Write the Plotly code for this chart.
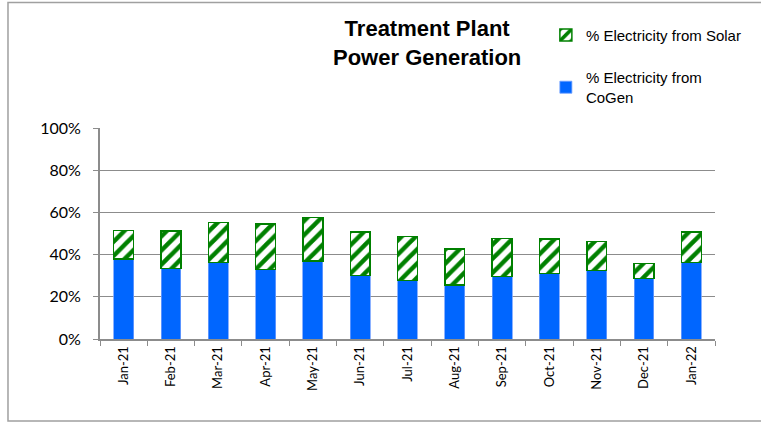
import plotly.graph_objects as go

months = ["Jan-21", "Feb-21", "Mar-21", "Apr-21", "May-21", "Jun-21", "Jul-21",
          "Aug-21", "Sep-21", "Oct-21", "Nov-21", "Dec-21", "Jan-22"]
cogen = [0.379, 0.335, 0.363, 0.330, 0.370, 0.300, 0.278, 0.256, 0.297, 0.311, 0.325, 0.286, 0.362]
solar = [0.136, 0.177, 0.190, 0.215, 0.206, 0.207, 0.207, 0.171, 0.180, 0.164, 0.138, 0.072, 0.145]
y_ticks = [0, 0.2, 0.4, 0.6, 0.8, 1.0]
y_tick_labels = ["0%", "20%", "40%", "60%", "80%", "100%"]

GREEN = "#008000"
BLUE = "#0066FF"
GRID = "#8C8C8C"

fig = go.Figure()
fig.add_trace(go.Bar(
    x=months, y=cogen, name="% Electricity from<br>CoGen", legendgroup="c", legendrank=2,
    marker=dict(color=BLUE, line=dict(color="#6F9FFF", width=0.8)),
    width=0.42,
))
fig.add_trace(go.Bar(
    x=months, y=solar, name="% Electricity from Solar", legendgroup="s", legendrank=1,
    marker=dict(color="white", line=dict(color=GREEN, width=1.5),
                pattern=dict(shape="/", fgcolor=GREEN, bgcolor="white", fgopacity=1,
                             size=10, solidity=0.45)),
    width=0.42,
))

fig.update_layout(
    width=761, height=423,
    barmode="stack",
    plot_bgcolor="white", paper_bgcolor="white",
    margin=dict(l=100, r=46, t=128, b=84),
    showlegend=True,
    legend=dict(x=0.725, y=1.518, xanchor="left", yanchor="top",
                traceorder="grouped", tracegroupgap=20,
                font=dict(family="Liberation Sans, Arial", size=15, color="#000"),
                bgcolor="rgba(0,0,0,0)", itemwidth=30),
    annotations=[dict(
        text="<b>Treatment Plant<br>Power Generation</b>",
        xref="paper", yref="paper", x=0.531, y=1.405, xanchor="center", yanchor="middle",
        showarrow=False, font=dict(family="Liberation Sans, Arial", size=22, color="#000"),
    )],
    shapes=[dict(type="rect", xref="paper", yref="paper",
                 x0=-0.1496, x1=1.2, y0=-0.389, y1=1.595,
                 line=dict(color="#A0A0A0", width=1.5), fillcolor="rgba(0,0,0,0)", layer="below")],
)
fig.update_yaxes(
    range=[0, 1.0], tickvals=y_ticks, ticktext=y_tick_labels,
    showgrid=True, gridcolor=GRID, gridwidth=1.3,
    showline=True, linecolor=GRID, linewidth=2,
    ticks="outside", ticklen=5, tickcolor=GRID,
    tickfont=dict(family="Lato", size=16, color="#000"),
    ticklabelstandoff=9, zeroline=False,
)
fig.update_xaxes(
    type="category", tickangle=-90,
    showline=True, linecolor=GRID, linewidth=2,
    ticks="outside", ticklen=5, tickcolor=GRID, tickson="boundaries",
    tickfont=dict(family="Lato", size=13, color="#000"),
    showgrid=False,
)
fig.write_html("out.html", config={"displayModeBar": False},
               post_script="document.body.style.margin='0px';")
